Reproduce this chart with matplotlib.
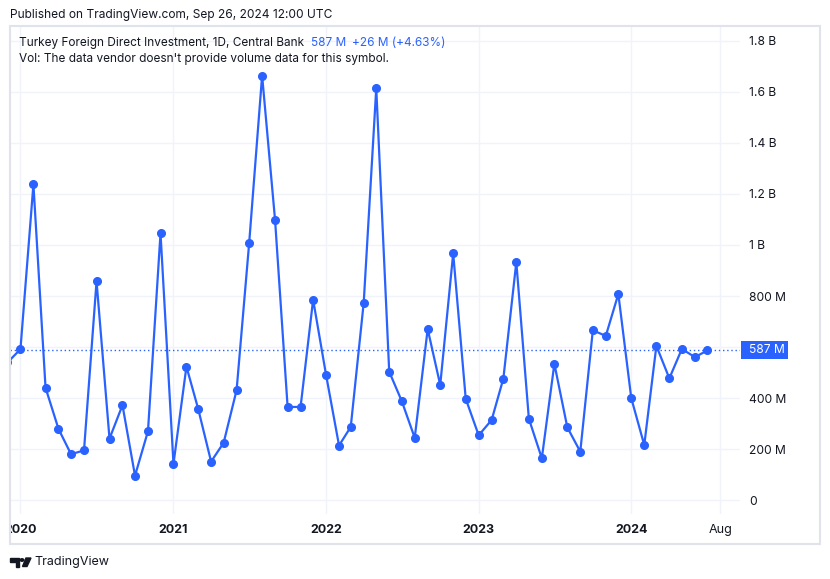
import matplotlib
matplotlib.use("Agg")
import matplotlib.pyplot as plt
from matplotlib.patches import Rectangle, Polygon, Circle
import pandas as pd

plt.rcParams['font.family'] = ['Inter', 'DejaVu Sans']

BLUE = "#2962ff"
TEXT = "#131722"
GRID = "#f0f3fa"
FRAME = "#e0e3eb"

# monthly values, millions USD (first point Dec 2019, last Jul 2024)
values = [540,
          592, 1237, 441, 280, 181, 196, 858, 242, 373, 97, 271, 1046,
          143, 524, 359, 152, 226, 432, 1007, 1663, 1097, 366, 366, 786,
          491, 215, 288, 774, 1613, 504, 389, 245, 671, 452, 967, 398,
          255, 315, 477, 933, 320, 165, 535, 286, 191, 666, 644, 808,
          400, 217, 605, 478, 593, 561, 587]
dates = pd.date_range("2019-12-01", periods=len(values), freq="MS")

last_value = 587
y_ticks = [0, 200, 400, 600, 800, 1000, 1200, 1400, 1600, 1800]
y_labels = ["0", "200 M", "400 M", "", "800 M", "1 B", "1.2 B", "1.4 B", "1.6 B", "1.8 B"]
x_ticks = pd.to_datetime(["2020-01-01", "2021-01-01", "2022-01-01", "2023-01-01",
                          "2024-01-01", "2024-08-01"])
x_labels = ["2020", "2021", "2022", "2023", "2024", "Aug"]

W, H = 830, 579
fig = plt.figure(figsize=(W / 100, H / 100), dpi=100)
fig.patch.set_facecolor("white")


def fx(x):
    return x / W


def fy(y):
    return 1 - y / H


# main plot area
ax = fig.add_axes([fx(10), fy(514), fx(740) - fx(10), fy(26) - fy(514)])
ax.plot(dates, values, color=BLUE, lw=1.6, marker="o", ms=5.5, zorder=3)
ax.axhline(last_value, color=BLUE, lw=1, ls=(0, (1, 2)), zorder=2)
ax.set_xlim(pd.Timestamp("2019-12-07"), pd.Timestamp("2024-09-17"))
ax.set_ylim(-53, 1857)
for s in ax.spines.values():
    s.set_visible(False)
ax.set_yticks(y_ticks)
ax.set_yticklabels(y_labels)
ax.yaxis.tick_right()
ax.tick_params(axis="y", length=0, pad=6.5, labelsize=8.7, labelcolor=TEXT)
ax.set_xticks(x_ticks)
ax.tick_params(axis="x", length=0, labelbottom=False)
ax.grid(True, color=GRID, lw=1, zorder=0)

# time scale
tax = fig.add_axes([fx(10), fy(544), fx(740) - fx(10), fy(514) - fy(544)], sharex=ax)
tax.axis("off")
tax.set_ylim(0, 1)
for d, lab in zip(x_ticks, x_labels):
    tax.text(d, 0.47, lab, ha="center", va="center", fontsize=9, color=TEXT,
             fontweight="normal" if lab == "Aug" else "bold", clip_on=True)

# last value label
fig.add_artist(Rectangle((fx(741), fy(359)), fx(788) - fx(741), fy(341) - fy(359),
                         transform=fig.transFigure, color=BLUE, lw=0))
fig.text(fx(749), fy(350), "587 M", color="white", fontsize=8.7, va="center")

# outer frame
fig.add_artist(Rectangle((fx(9.5), fy(543.5)), fx(819.5) - fx(9.5), fy(25.5) - fy(543.5),
                         transform=fig.transFigure, fill=False, ec=FRAME, lw=1.5))

# header
fig.text(fx(10), fy(15), "Published on TradingView.com, Sep 26, 2024 12:00 UTC",
         fontsize=8.6, color=TEXT, va="center")
t1 = fig.text(fx(19), fy(43), "Turkey Foreign Direct Investment, 1D, Central Bank",
              fontsize=8.5, color=TEXT, va="center", zorder=5)
fig.text(fx(19), fy(59), "Vol: The data vendor doesn't provide volume data for this symbol.",
         fontsize=8.5, color=TEXT, va="center", zorder=5)
fig.canvas.draw()
r = fig.canvas.get_renderer()
x_end = t1.get_window_extent(r).x1
t2 = fig.text((x_end + 7) / W, fy(43), "587 M", fontsize=8.5, color=BLUE, va="center", zorder=5)
x_end = t2.get_window_extent(r).x1
fig.text((x_end + 6) / W, fy(43), "+26 M (+4.63%)", fontsize=8.5, color=BLUE, va="center", zorder=5)

# logo
logo = [
    Polygon([(fx(10), fy(558)), (fx(19), fy(558)), (fx(19), fy(566.5)),
             (fx(15.5), fy(566.5)), (fx(15.5), fy(561.5)), (fx(10), fy(561.5))]),
    Polygon([(fx(26), fy(558)), (fx(31), fy(558)), (fx(27), fy(566.5)), (fx(22.5), fy(566.5))]),
]
for p in logo:
    p.set_transform(fig.transFigure)
    p.set_color(TEXT)
    fig.add_artist(p)
fig.add_artist(Circle((fx(22), fy(560)), 1.8 / W, transform=fig.transFigure, color=TEXT))
fig.text(fx(34), fy(562.5), "TradingView", fontsize=9, color=TEXT, va="center")

fig.savefig("out.png", dpi=100)
